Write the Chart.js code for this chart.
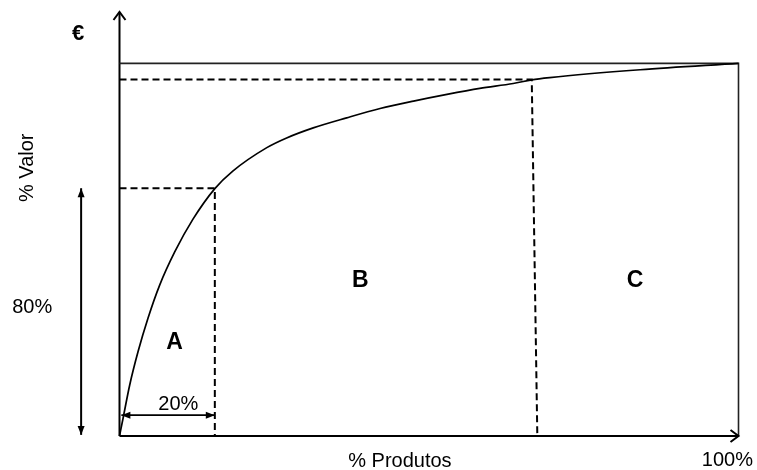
<!DOCTYPE html>
<html>
<head>
<meta charset="utf-8">
<script src="https://cdn.jsdelivr.net/npm/chart.js@4/dist/chart.umd.min.js"></script>
<style>
html,body{margin:0;padding:0;background:#fff;}
#wrap{width:757px;height:470px;position:relative;}
</style>
</head>
<body>
<div id="wrap"><canvas id="c" width="757" height="470"></canvas></div>
<script>
// ---- data ----
const curveX = [0, 0.57, 1.65, 2.99, 4.60, 6.49, 8.92, 11.87, 15.4, 18.3, 23.8, 27.0, 31.3, 36.7, 42.1, 47.5, 52.9, 58.2, 63.6, 66.6, 69.5, 84.1, 100];
const curveY = [0, 4.7, 13.7, 22.6, 31.6, 40.5, 49.4, 58.2, 66.4, 71.1, 77.4, 80.0, 82.7, 85.4, 87.9, 89.9, 91.7, 93.3, 94.6, 95.6, 96.2, 98.3, 100];
const classAX = [0, 15.4, 15.4];
const classAY = [66.5, 66.5, 0];
const classBX = [0, 66.6, 67.5];
const classBY = [95.7, 95.7, 0];
const totalX = [0, 100, 100];
const totalY = [100, 100, 0];
const classLabels = ['A', 'B', 'C'];
const axisTitles = ['% Valor', '% Produtos'];
const markLabels = ['80%', '20%', '100%', '€'];

const pts = (xs, ys) => xs.map((x, i) => ({x: x, y: ys[i]}));
const Y_TOP = 113.8;

const base = {pointRadius: 0, borderColor: '#000', fill: false, clip: false, tension: 0};

const datasets = [
  Object.assign({}, base, {data: pts(curveX, curveY), borderWidth: 1.7, cubicInterpolationMode: 'monotone'}),
  Object.assign({}, base, {data: pts(totalX, totalY), borderWidth: 1.6, borderColor: '#222'}),
  Object.assign({}, base, {data: pts(classAX, classAY), borderWidth: 2, borderDash: [7, 4]}),
  Object.assign({}, base, {data: pts(classBX, classBY), borderWidth: 2, borderDash: [7, 4]}),
  // axes
  Object.assign({}, base, {data: [{x:0,y:0},{x:0,y:Y_TOP}], borderWidth: 2}),
  Object.assign({}, base, {data: [{x:0,y:0},{x:100,y:0}], borderWidth: 2}),
  // 80% measure arrow
  Object.assign({}, base, {data: [{x:-6.2,y:0.3},{x:-6.2,y:66.5}], borderWidth: 2}),
  // 20% measure arrow
  Object.assign({}, base, {data: [{x:0.3,y:5.6},{x:15.4,y:5.6}], borderWidth: 1.8})
];

function openHead(ctx, x, y, dir) {
  ctx.save();
  ctx.strokeStyle = '#000';
  ctx.lineWidth = 2;
  ctx.beginPath();
  if (dir === 'up') { ctx.moveTo(x - 6, y + 8); ctx.lineTo(x, y); ctx.lineTo(x + 6, y + 8); }
  else { ctx.moveTo(x - 8, y - 6); ctx.lineTo(x, y); ctx.lineTo(x - 8, y + 6); }
  ctx.stroke();
  ctx.restore();
}
function filledHead(ctx, x, y, dir, len, half) {
  ctx.save();
  ctx.fillStyle = '#000';
  ctx.beginPath();
  if (dir === 'up') { ctx.moveTo(x, y); ctx.lineTo(x - half, y + len); ctx.lineTo(x + half, y + len); }
  else if (dir === 'down') { ctx.moveTo(x, y); ctx.lineTo(x - half, y - len); ctx.lineTo(x + half, y - len); }
  else if (dir === 'left') { ctx.moveTo(x, y); ctx.lineTo(x + len, y - half); ctx.lineTo(x + len, y + half); }
  else { ctx.moveTo(x, y); ctx.lineTo(x - len, y - half); ctx.lineTo(x - len, y + half); }
  ctx.closePath();
  ctx.fill();
  ctx.restore();
}

const deco = {
  id: 'deco',
  afterDatasetsDraw(chart) {
    const ctx = chart.ctx;
    const sx = chart.scales.x, sy = chart.scales.y;
    const X = v => sx.getPixelForValue(v), Y = v => sy.getPixelForValue(v);
    // axis arrow heads
    openHead(ctx, X(0), Y(Y_TOP), 'up');
    openHead(ctx, X(100), Y(0), 'right');
    // measure arrow heads
    filledHead(ctx, X(-6.2), Y(66.5), 'up', 9, 3.5);
    filledHead(ctx, X(-6.2), Y(0.3), 'down', 9, 3.5);
    filledHead(ctx, X(0.3), Y(5.6), 'left', 9, 3.5);
    filledHead(ctx, X(15.4), Y(5.6), 'right', 9, 3.5);

    function txt(s, vx, vy, size, bold, rot) {
      ctx.save();
      ctx.fillStyle = '#000';
      ctx.font = (bold ? 'bold ' : '') + size + 'px "Liberation Sans", Arial, sans-serif';
      ctx.textAlign = 'center';
      ctx.textBaseline = 'alphabetic';
      ctx.translate(X(vx), Y(vy));
      if (rot) ctx.rotate(rot);
      ctx.fillText(s, 0, size * 0.358);
      ctx.restore();
    }
    txt(markLabels[3], -6.7, 108.4, 22, true);
    txt(axisTitles[0], -15.1, 72.0, 20, false, -Math.PI / 2);
    txt(markLabels[0], -14.1, 34.9, 20, false);
    txt(classLabels[0], 8.9, 25.5, 23, true);
    txt(classLabels[1], 38.9, 42.3, 23, true);
    txt(classLabels[2], 83.3, 42.3, 23, true);
    txt(markLabels[1], 9.5, 9.0, 20, false);
    txt(axisTitles[1], 45.3, -6.3, 20, false);
    txt(markLabels[2], 98.2, -6.0, 20, false);
  }
};

new Chart(document.getElementById('c'), {
  type: 'line',
  data: {datasets: datasets},
  options: {
    responsive: false,
    animation: false,
    events: [],
    layout: {padding: {left: 119.5, right: 18.5, top: 12, bottom: 34}},
    plugins: {legend: {display: false}, tooltip: {enabled: false}},
    scales: {
      x: {type: 'linear', min: 0, max: 100, display: false},
      y: {type: 'linear', min: 0, max: Y_TOP, display: false}
    }
  },
  plugins: [deco]
});
</script>
</body>
</html>
